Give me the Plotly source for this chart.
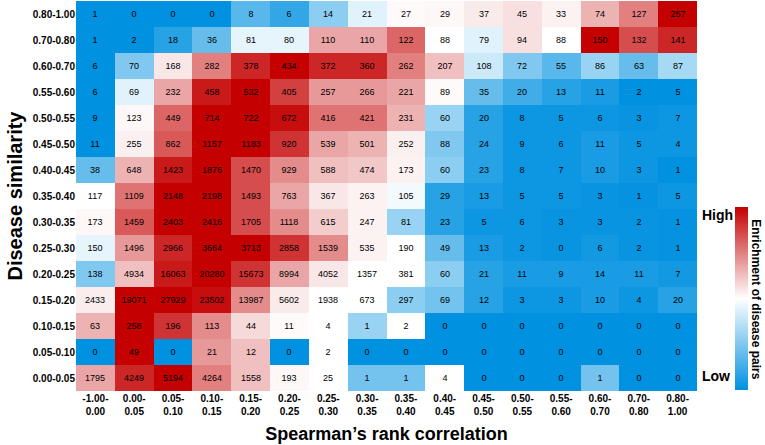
import plotly.graph_objects as go

# Disease similarity bins (top to bottom)
sim_bins = ['0.80-1.00', '0.70-0.80', '0.60-0.70', '0.55-0.60', '0.50-0.55',
            '0.45-0.50', '0.40-0.45', '0.35-0.40', '0.30-0.35', '0.25-0.30',
            '0.20-0.25', '0.15-0.20', '0.10-0.15', '0.05-0.10', '0.00-0.05']

# Spearman's rank correlation bins
corr_bins = ['-1.00-<br>0.00', '0.00-<br>0.05', '0.05-<br>0.10', '0.10-<br>0.15',
             '0.15-<br>0.20', '0.20-<br>0.25', '0.25-<br>0.30', '0.30-<br>0.35',
             '0.35-<br>0.40', '0.40-<br>0.45', '0.45-<br>0.50', '0.50-<br>0.55',
             '0.55-<br>0.60', '0.60-<br>0.70', '0.70-<br>0.80', '0.80-<br>1.00']

# number of disease pairs in each cell
counts = [
    [1, 0, 0, 0, 8, 6, 14, 21, 27, 29, 37, 45, 33, 74, 127, 257],
    [1, 2, 18, 36, 81, 80, 110, 110, 122, 88, 79, 94, 88, 150, 132, 141],
    [6, 70, 168, 282, 378, 434, 372, 360, 262, 207, 108, 72, 55, 86, 63, 87],
    [6, 69, 232, 458, 532, 405, 257, 266, 221, 89, 35, 20, 13, 11, 2, 5],
    [9, 123, 449, 714, 722, 672, 416, 421, 231, 60, 20, 8, 5, 6, 3, 7],
    [11, 255, 862, 1157, 1183, 920, 539, 501, 252, 88, 24, 9, 6, 11, 5, 4],
    [38, 648, 1423, 1876, 1470, 929, 588, 474, 173, 60, 23, 8, 7, 10, 3, 1],
    [117, 1109, 2148, 2198, 1493, 763, 367, 263, 105, 29, 13, 5, 5, 3, 1, 5],
    [173, 1459, 2403, 2416, 1705, 1118, 615, 247, 81, 23, 5, 6, 3, 3, 2, 1],
    [150, 1496, 2966, 3664, 3713, 2858, 1539, 535, 190, 49, 13, 2, 0, 6, 2, 1],
    [138, 4934, 16063, 20280, 15673, 8994, 4052, 1357, 381, 60, 21, 11, 9, 14, 11, 7],
    [2433, 19071, 27929, 23502, 13987, 5602, 1938, 673, 297, 69, 12, 3, 3, 10, 4, 20],
    [63, 258, 196, 113, 44, 11, 4, 1, 2, 0, 0, 0, 0, 0, 0, 0],
    [0, 49, 0, 21, 12, 0, 2, 0, 0, 0, 0, 0, 0, 0, 0, 0],
    [1795, 4249, 5194, 4264, 1558, 193, 25, 1, 1, 4, 0, 0, 0, 1, 0, 0],
]

# enrichment (-1 = low/blue, 0 = white, 1 = high/red)
enrichment = [
    [-1, -1, -1, -1, -0.65, -0.8, -0.45, -0.12, 0.02, 0.03, 0.08, 0.12, 0.05, 0.3, 0.5, 1.0],
    [-1, -1, -0.85, -0.6, -0.1, -0.1, 0.35, 0.35, 0.6, 0.0, -0.12, 0.12, 0.0, 1.0, 0.7, 0.85],
    [-1, -0.5, 0.1, 0.5, 0.85, 1.0, 0.85, 0.85, 0.5, 0.25, -0.2, -0.5, -0.65, -0.4, -0.6, -0.35],
    [-1, -0.12, 0.35, 0.9, 1.0, 0.75, 0.4, 0.4, 0.35, 0.02, -0.6, -0.75, -0.85, -0.9, -1, -1],
    [-1, 0.03, 0.6, 1.0, 1.0, 0.95, 0.55, 0.55, 0.3, -0.4, -0.85, -0.95, -0.95, -0.95, -0.97, -0.95],
    [-1, 0.06, 0.65, 1.0, 1.0, 0.8, 0.35, 0.3, 0.06, -0.5, -0.85, -0.95, -0.95, -0.9, -0.95, -0.95],
    [-0.6, 0.3, 0.9, 1.0, 0.7, 0.45, 0.25, 0.22, 0.05, -0.45, -0.85, -0.95, -0.95, -0.9, -0.95, -1],
    [0.0, 0.55, 1.0, 1.0, 0.7, 0.35, 0.1, 0.05, -0.05, -0.85, -0.9, -0.95, -0.95, -0.97, -0.98, -0.95],
    [0.03, 0.65, 1.0, 1.0, 0.7, 0.45, 0.2, 0.05, -0.4, -0.85, -0.95, -0.95, -0.97, -0.97, -0.97, -0.98],
    [-0.1, 0.4, 0.85, 1.0, 1.0, 0.8, 0.45, 0.05, 0.0, -0.6, -0.9, -0.95, -0.97, -0.93, -0.97, -0.98],
    [-0.5, 0.25, 0.9, 1.0, 0.8, 0.35, 0.1, 0.0, 0.0, -0.45, -0.85, -0.9, -0.9, -0.9, -0.9, -0.93],
    [0.07, 1.0, 1.0, 0.95, 0.45, 0.08, 0.0, 0.0, -0.45, -0.55, -0.85, -0.95, -0.95, -0.9, -0.95, -0.85],
    [0.3, 1.0, 0.8, 0.45, 0.15, 0.02, 0.0, -0.4, 0.0, -1, -1, -1, -1, -1, -1, -1],
    [-1, 1.0, -1, 0.4, 0.25, -1, 0.0, -1, -1, -1, -1, -1, -1, -1, -1, -1],
    [0.35, 0.85, 1.0, 0.5, 0.25, 0.03, 0.0, -0.55, -0.55, 0.0, -1, -1, -1, -0.55, -1, -1],
]

colorscale = [[0.0, 'rgb(0,145,224)'], [0.5, 'rgb(255,255,255)'], [1.0, 'rgb(196,0,0)']]
font_family = 'Arial, Liberation Sans, sans-serif'

fig = go.Figure(go.Heatmap(
    z=enrichment,
    x=corr_bins,
    y=sim_bins,
    text=counts,
    texttemplate='%{text}',
    textfont=dict(size=9, color='black', family=font_family),
    colorscale=colorscale,
    zmin=-1,
    zmax=1,
    colorbar=dict(
        x=1.061,
        xanchor='left',
        xpad=0,
        y=0.003,
        yanchor='bottom',
        ypad=0,
        len=0.47,
        thickness=13,
        outlinewidth=0,
        showticklabels=False,
        ticks='',
    ),
))

# High / Low labels next to the colour bar
fig.add_annotation(x=1.005, xref='paper', xanchor='left', y=0.452, yref='paper',
                   text='<b>High</b>', showarrow=False,
                   font=dict(size=14, color='black', family=font_family))
fig.add_annotation(x=1.005, xref='paper', xanchor='left', y=0.012, yref='paper',
                   text='<b>Low</b>', showarrow=False,
                   font=dict(size=14, color='black', family=font_family))
fig.add_annotation(x=1.095, xref='paper', xanchor='center',
                   y=0.235, yref='paper', yanchor='middle',
                   text='<b>Enrichment of disease pairs</b>',
                   showarrow=False, textangle=90,
                   font=dict(size=12, color='black', family=font_family))

fig.update_layout(
    width=765,
    height=445,
    margin=dict(l=76, r=68, t=1, b=54),
    plot_bgcolor='white',
    paper_bgcolor='white',
    font=dict(family=font_family, color='black'),
    xaxis=dict(
        title=dict(text='<b>Spearman’s rank correlation</b>', font=dict(size=18), standoff=11),
        tickfont=dict(size=10),
        tickprefix='<b>', ticksuffix='</b>',
        showgrid=False,
        ticks='',
        automargin=False,
    ),
    yaxis=dict(
        title=dict(text='<b>Disease similarity</b>', font=dict(size=20), standoff=4),
        tickfont=dict(size=10),
        tickprefix='<b>', ticksuffix='</b>',
        autorange='reversed',
        showgrid=False,
        ticks='',
        automargin=False,
    ),
)

# drop the browser's default body margin so the 765x445 figure fills the window
fig.write_html("out.html", config={'displayModeBar': False},
               post_script="document.body.style.margin = '0';")
